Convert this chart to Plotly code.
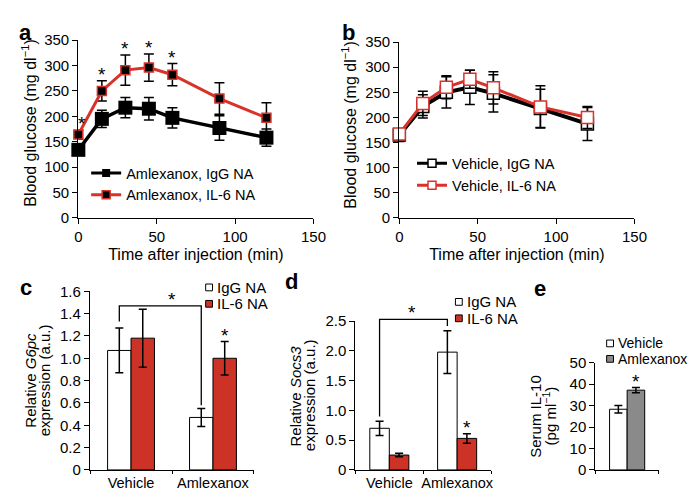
import plotly.graph_objects as go

W, H = 698, 496
FONT = "Liberation Sans, Arial, Helvetica, sans-serif"
RED_LINE = "#d8332a"
RED_BAR = "#cc3326"
GREY = "#8a8a8a"

# ---------------- data ----------------
times = [0, 15, 30, 45, 60, 90, 120]

# panel a: amlexanox
a_names = ["Amlexanox, IgG NA", "Amlexanox, IL-6 NA"]
a_igg = [134, 195, 217, 215, 197, 177, 158]
a_igg_err = [10, 17, 20, 22, 20, 24, 17]
a_il6 = [164, 250, 291, 296, 282, 235, 197]
a_il6_err = [9, 20, 30, 27, 22, 31, 30]
a_sig_times = [0, 15, 30, 45, 60]

# panel b: vehicle
b_names = ["Vehicle, IgG NA", "Vehicle, IL-6 NA"]
b_igg = [165, 222, 250, 260, 248, 218, 187]
b_igg_err = [13, 23, 31, 34, 37, 38, 33]
b_il6 = [167, 228, 260, 276, 259, 221, 200]
b_il6_err = [10, 24, 23, 18, 32, 42, 22]

bar_categories = ["Vehicle", "Amlexanox"]
bar_series = ["IgG NA", "IL-6 NA"]

# panel c: G6pc
c_igg = [1.07, 0.47]
c_igg_err = [0.20, 0.08]
c_il6 = [1.18, 1.00]
c_il6_err = [0.26, 0.15]
c_ticks = [0, 0.2, 0.4, 0.6, 0.8, 1.0, 1.2, 1.4, 1.6]
c_ticklabels = ["0", "0.2", "0.4", "0.6", "0.8", "1.0", "1.2", "1.4", "1.6"]
c_bracket_y = 1.47

# panel d: Socs3
d_igg = [0.70, 1.98]
d_igg_err = [0.12, 0.36]
d_il6 = [0.25, 0.53]
d_il6_err = [0.03, 0.08]
d_ticks = [0, 0.5, 1.0, 1.5, 2.0, 2.5]
d_ticklabels = ["0", "0.5", "1.0", "1.5", "2.0", "2.5"]
d_bracket_y = 2.53

# panel e: serum IL-10
e_names = ["Vehicle", "Amlexanox"]
e_vals = [28.3, 37.2]
e_err = [1.8, 1.2]


def px_x(p):
    return p / W


def px_y(p):
    return 1 - p / H


# panel geometry in pixels (left, right), (bottom, top)
GEO = {
    "a": ((68, 309), (208, 24)),
    "b": ((397, 638), (208, 26)),
    "c": ((80, 248), (469, 284)),
    "d": ((352, 491), (469, 315)),
    "e": ((598, 663), (469, 358)),
}
RANGES = {"c": ((-0.5, 1.5), (0, 1.6)), "d": ((-0.5, 1.5), (0, 2.5))}


def data_to_paper(panel, xv, yv):
    (l, r), (b, t) = GEO[panel]
    (xr0, xr1), (yr0, yr1) = RANGES[panel]
    px = l + (xv - xr0) / (xr1 - xr0) * (r - l)
    py = b - (yv - yr0) / (yr1 - yr0) * (b - t)
    return px_x(px), px_y(py)


fig = go.Figure()

# ---------------- panel a ----------------
fig.add_trace(go.Scatter(
    x=times, y=a_igg, mode="lines+markers", showlegend=False, cliponaxis=False,
    line=dict(color="black", width=3.5),
    marker=dict(symbol="square", size=14, color="black"),
    error_y=dict(type="data", array=a_igg_err, color="black", thickness=1.5, width=5),
    xaxis="x", yaxis="y"))
fig.add_trace(go.Scatter(
    x=times, y=a_il6, mode="lines+markers", showlegend=False, cliponaxis=False,
    line=dict(color=RED_LINE, width=3),
    marker=dict(symbol="square", size=9, color="black", line=dict(color=RED_LINE, width=1.5)),
    error_y=dict(type="data", array=a_il6_err, color="black", thickness=1.5, width=5),
    xaxis="x", yaxis="y"))
# legend proxies
fig.add_trace(go.Scatter(
    x=[None], y=[None], mode="lines+markers", name=a_names[0], legend="legend",
    line=dict(color="black", width=3), marker=dict(symbol="square", size=8, color="black"),
    xaxis="x", yaxis="y"))
fig.add_trace(go.Scatter(
    x=[None], y=[None], mode="lines+markers", name=a_names[1], legend="legend",
    line=dict(color=RED_LINE, width=3),
    marker=dict(symbol="square", size=8, color="black", line=dict(color=RED_LINE, width=1.5)),
    xaxis="x", yaxis="y"))

# ---------------- panel b ----------------
fig.add_trace(go.Scatter(
    x=times, y=b_igg, mode="lines+markers", showlegend=False, cliponaxis=False,
    line=dict(color="black", width=4),
    marker=dict(symbol="square", size=12, color="white", line=dict(color="black", width=1.5)),
    error_y=dict(type="data", array=b_igg_err, color="black", thickness=1.5, width=5),
    xaxis="x2", yaxis="y2"))
fig.add_trace(go.Scatter(
    x=times, y=b_il6, mode="lines+markers", showlegend=False, cliponaxis=False,
    line=dict(color=RED_LINE, width=3),
    marker=dict(symbol="square", size=12, color="white", line=dict(color=RED_LINE, width=1.5)),
    error_y=dict(type="data", array=b_il6_err, color="black", thickness=1.5, width=5),
    xaxis="x2", yaxis="y2"))
fig.add_trace(go.Scatter(
    x=[None], y=[None], mode="lines+markers", name=b_names[0], legend="legend2",
    line=dict(color="black", width=3),
    marker=dict(symbol="square", size=8, color="white", line=dict(color="black", width=1.5)),
    xaxis="x2", yaxis="y2"))
fig.add_trace(go.Scatter(
    x=[None], y=[None], mode="lines+markers", name=b_names[1], legend="legend2",
    line=dict(color=RED_LINE, width=3),
    marker=dict(symbol="square", size=8, color="white", line=dict(color=RED_LINE, width=1.5)),
    xaxis="x2", yaxis="y2"))

# ---------------- bar panels ----------------
bar_pos = [0, 1]
wc, wd, we = 0.286, 0.288, 0.277
err_style = dict(type="data", color="black", thickness=1.5, width=4)


def add_pair(vals1, err1, vals2, err2, w, xa, ya, col2):
    fig.add_trace(go.Bar(
        x=bar_pos, y=vals1, width=w, offset=-w, showlegend=False,
        marker=dict(color="white", line=dict(color="black", width=1)),
        error_y=dict(array=err1, **err_style), xaxis=xa, yaxis=ya))
    fig.add_trace(go.Bar(
        x=bar_pos, y=vals2, width=w, offset=0, showlegend=False,
        marker=dict(color=col2, line=dict(color="black", width=1)),
        error_y=dict(array=err2, **err_style), xaxis=xa, yaxis=ya))


add_pair(c_igg, c_igg_err, c_il6, c_il6_err, wc, "x3", "y3", RED_BAR)
add_pair(d_igg, d_igg_err, d_il6, d_il6_err, wd, "x4", "y4", RED_BAR)

fig.add_trace(go.Bar(
    x=[0], y=[e_vals[0]], width=we, offset=-we, showlegend=False,
    marker=dict(color="white", line=dict(color="black", width=1)),
    error_y=dict(array=[e_err[0]], **err_style), xaxis="x5", yaxis="y5"))
fig.add_trace(go.Bar(
    x=[0], y=[e_vals[1]], width=we, offset=0, showlegend=False,
    marker=dict(color=GREY, line=dict(color="black", width=1)),
    error_y=dict(array=[e_err[1]], **err_style), xaxis="x5", yaxis="y5"))

# ---------------- axes ----------------
TICK_FS = 15
TITLE_FS = 16
tickfont = dict(family=FONT, size=TICK_FS, color="black")
ax_common = dict(showline=True, linecolor="black", linewidth=1.3, showgrid=False,
                 zeroline=False, ticks="outside", ticklen=5, tickwidth=1.3,
                 tickcolor="black", tickfont=tickfont)

line_x = dict(range=[0, 150], tickvals=[0, 50, 100, 150], **ax_common,
              title=dict(text="Time after injection (min)",
                         font=dict(family=FONT, size=TITLE_FS, color="black"), standoff=4))
line_y = dict(range=[0, 350], tickvals=[0, 50, 100, 150, 200, 250, 300, 350], **ax_common)

bar_x_common = dict(showline=True, linecolor="black", linewidth=1.3, showgrid=False,
                    zeroline=False, ticks="", tickfont=dict(family=FONT, size=14.5, color="black"),
                    minor=dict(tickvals=[-0.5, 0.5, 1.5], ticks="outside", ticklen=3,
                               tickwidth=1.3, tickcolor="black"))


def dom_x(p):
    return [px_x(GEO[p][0][0]), px_x(GEO[p][0][1])]


def dom_y(p):
    return [px_y(GEO[p][1][0]), px_y(GEO[p][1][1])]


LEG_FS = 14.5
fig.update_layout(
    width=W, height=H, margin=dict(l=0, r=0, t=0, b=0),
    paper_bgcolor="white", plot_bgcolor="white",
    font=dict(family=FONT, size=TICK_FS, color="black"),
    barmode="overlay",
    xaxis=dict(domain=dom_x("a"), anchor="y", **line_x),
    yaxis=dict(domain=dom_y("a"), anchor="x", **line_y),
    xaxis2=dict(domain=dom_x("b"), anchor="y2", **line_x),
    yaxis2=dict(domain=dom_y("b"), anchor="x2", **line_y),
    xaxis3=dict(domain=dom_x("c"), anchor="y3", range=list(RANGES["c"][0]),
                tickvals=bar_pos, ticktext=bar_categories, **bar_x_common),
    yaxis3=dict(domain=dom_y("c"), anchor="x3", range=list(RANGES["c"][1]),
                tickvals=c_ticks, ticktext=c_ticklabels, **ax_common),
    xaxis4=dict(domain=dom_x("d"), anchor="y4", range=list(RANGES["d"][0]),
                tickvals=bar_pos, ticktext=bar_categories, **bar_x_common),
    yaxis4=dict(domain=dom_y("d"), anchor="x4", range=list(RANGES["d"][1]),
                tickvals=d_ticks, ticktext=d_ticklabels, **ax_common),
    xaxis5=dict(domain=dom_x("e"), anchor="y5", range=[-0.5, 0.5],
                showline=True, linecolor="black", linewidth=1.3, showgrid=False,
                zeroline=False, ticks="", showticklabels=False,
                minor=dict(tickvals=[-0.5, 0.5], ticks="outside", ticklen=3,
                           tickwidth=1.3, tickcolor="black")),
    yaxis5=dict(domain=dom_y("e"), anchor="x5", range=[0, 50],
                tickvals=[0, 10, 20, 30, 40, 50], **ax_common),
    legend=dict(x=px_x(76), y=px_y(145), xanchor="left", yanchor="top",
                bgcolor="rgba(0,0,0,0)", font=dict(family=FONT, size=LEG_FS), tracegroupgap=0),
    legend2=dict(x=px_x(410), y=px_y(135), xanchor="left", yanchor="top",
                 bgcolor="rgba(0,0,0,0)", font=dict(family=FONT, size=LEG_FS), tracegroupgap=0),
)

annotations = []
shapes = []

# panel labels
for lab, x, y in [("a", 14, 16), ("b", 345, 16), ("c", 14, 280), ("d", 286, 274), ("e", 541, 281)]:
    annotations.append(dict(text="<b>%s</b>" % lab, x=px_x(x), y=px_y(y), xref="paper",
                            yref="paper", xanchor="center", yanchor="middle",
                            showarrow=False, font=dict(family=FONT, size=22)))

# y-axis titles (rotated)
ytitles = [
    ("Blood glucose (mg dl<sup>\u22121</sup>)", 18, 110, 16),
    ("Blood glucose (mg dl<sup>\u22121</sup>)", 346, 112, 16),
    ("Relative <i>G6pc</i>", 19, 376, 15),
    ("expression (a.u.)", 33, 376, 15),
    ("Relative <i>Socs3</i>", 291, 392, 15),
    ("expression (a.u.)", 305, 392, 15),
    ("Serum IL-10", 537, 413, 15),
    ("(pg ml<sup>\u22121</sup>)", 551, 413, 15),
]
for t, x, y, fs in ytitles:
    annotations.append(dict(text=t, x=px_x(x), y=px_y(y), xref="paper", yref="paper",
                            xanchor="center", yanchor="middle", textangle=-90,
                            showarrow=False, font=dict(family=FONT, size=fs)))

star_font = dict(family=FONT, size=19, color="black")
STAR_SHIFT = -6
# panel a asterisks
for t in a_sig_times:
    i = times.index(t)
    annotations.append(dict(text="*", x=t, y=a_il6[i] + a_il6_err[i], xref="x", yref="y",
                            xanchor="center", yanchor="bottom", showarrow=False,
                            yshift=STAR_SHIFT, xshift=4 if t == 0 else 0, font=star_font))

# bar asterisks
annotations.append(dict(text="*", x=1 + wc / 2, y=c_il6[1] + c_il6_err[1], xref="x3", yref="y3",
                        xanchor="center", yanchor="bottom", showarrow=False, yshift=STAR_SHIFT,
                        font=star_font))
annotations.append(dict(text="*", x=1 + wd / 2, y=d_il6[1] + d_il6_err[1], xref="x4", yref="y4",
                        xanchor="center", yanchor="bottom", showarrow=False, yshift=STAR_SHIFT,
                        font=star_font))
annotations.append(dict(text="*", x=we / 2, y=e_vals[1] + e_err[1], xref="x5", yref="y5",
                        xanchor="center", yanchor="bottom", showarrow=False, yshift=STAR_SHIFT,
                        font=star_font))


# significance brackets (drawn in paper coordinates so they may pass above the axis top)
def bracket(panel, y_top, left_bottom, right_bottom, w, star_x):
    x0, x1 = -w / 2, 1 - w / 2
    p0 = data_to_paper(panel, x0, left_bottom)
    p1 = data_to_paper(panel, x0, y_top)
    p2 = data_to_paper(panel, x1, y_top)
    p3 = data_to_paper(panel, x1, right_bottom)
    shapes.append(dict(type="path", xref="paper", yref="paper",
                       path="M %f,%f L %f,%f L %f,%f L %f,%f" % (p0 + p1 + p2 + p3),
                       line=dict(color="black", width=1.3)))
    sx, sy = data_to_paper(panel, star_x, y_top)
    annotations.append(dict(text="*", x=sx, y=sy, xref="paper", yref="paper", xanchor="center",
                            yanchor="bottom", showarrow=False, yshift=STAR_SHIFT, font=star_font))


bracket("c", c_bracket_y, c_igg[0] + c_igg_err[0] + 0.06, c_igg[1] + c_igg_err[1] + 0.03,
        wc, 0.5)
bracket("d", d_bracket_y, d_igg[0] + d_igg_err[0] + 0.08, d_igg[1] + d_igg_err[1] + 0.08,
        wd, 0.34)

# bar legends (manual, compact rows)
bar_legends = [
    (bar_series, ["white", RED_BAR], 202, [280, 297], 15),
    (bar_series, ["white", RED_BAR], 458, [295, 312], 15),
    (e_names, ["white", GREY], 613, [338, 354], 14),
]
for names, cols, sx, rows, fs in bar_legends:
    for name, col, ry in zip(names, cols, rows):
        shapes.append(dict(type="rect", xref="paper", yref="paper",
                           x0=px_x(sx - 3.5), x1=px_x(sx + 3.5), y0=px_y(ry + 3.5), y1=px_y(ry - 3.5),
                           fillcolor=col, line=dict(color="black", width=1)))
        annotations.append(dict(text=name, x=px_x(sx + 7), y=px_y(ry), xref="paper", yref="paper",
                                xanchor="left", yanchor="middle", showarrow=False, borderpad=0,
                                font=dict(family=FONT, size=fs)))

fig.update_layout(annotations=annotations, shapes=shapes)
fig.write_html("out.html")
